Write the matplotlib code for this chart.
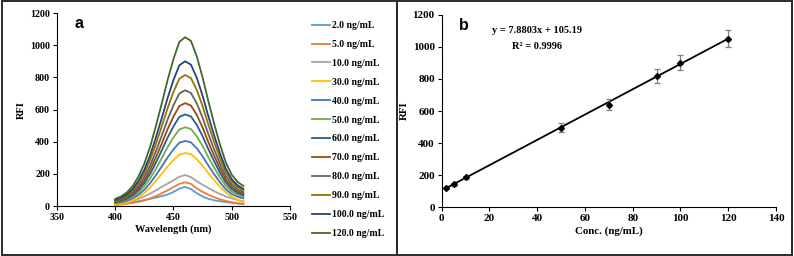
import numpy as np
import matplotlib.pyplot as plt
from matplotlib.patches import Rectangle

plt.rcParams['font.family'] = ['Liberation Serif', 'DejaVu Serif']
plt.rcParams['font.weight'] = 'bold'

# ── Data: panel a (emission spectra) ─────────────────────────────────────────
wavelength = [400, 405, 410, 415, 420, 425, 430, 435, 440, 445, 450, 455,
              460, 465, 470, 475, 480, 485, 490, 495, 500, 505, 510]

conc_labels = ["2.0 ng/mL", "5.0 ng/mL", "10.0 ng/mL", "30.0 ng/mL",
               "40.0 ng/mL", "50.0 ng/mL", "60.0 ng/mL", "70.0 ng/mL",
               "80.0 ng/mL", "90.0 ng/mL", "100.0 ng/mL", "120.0 ng/mL"]

rfi_2 = [8, 12, 17, 23, 30, 37, 45, 53, 62, 72, 88, 108, 120, 105, 80, 60,
         45, 36, 30, 25, 20, 16, 12]
rfi_5 = [6, 10, 15, 20, 26, 35, 48, 62, 80, 98, 118, 138, 148, 138, 110, 88,
         70, 55, 42, 32, 24, 18, 14]
rfi_10 = [10, 15, 22, 32, 45, 60, 78, 98, 120, 140, 160, 182, 193, 180, 155,
          132, 112, 92, 75, 60, 48, 38, 30]
rfi_30 = [8, 14, 22, 35, 55, 82, 116, 157, 201, 247, 287, 320, 330, 323, 292,
          251, 204, 160, 119, 85, 58, 38, 25]
rfi_40 = [17, 23, 33, 48, 71, 102, 143, 193, 247, 303, 353, 394, 405, 396,
          359, 309, 251, 197, 147, 104, 75, 58, 48]
rfi_50 = [21, 28, 40, 58, 86, 123, 172, 233, 299, 367, 427, 476, 490, 479,
          434, 373, 303, 238, 177, 126, 91, 70, 58]
rfi_60 = [25, 32, 46, 68, 100, 144, 201, 271, 348, 426, 496, 554, 570, 557,
          505, 434, 353, 277, 206, 146, 106, 82, 68]
rfi_70 = [28, 36, 52, 76, 113, 161, 225, 305, 390, 479, 557, 622, 640, 625,
          567, 488, 396, 311, 232, 164, 119, 92, 76]
rfi_80 = [31, 41, 58, 86, 127, 181, 253, 343, 439, 539, 627, 700, 720, 703,
          638, 549, 446, 350, 261, 185, 134, 103, 86]
rfi_90 = [35, 46, 66, 97, 143, 205, 287, 388, 497, 610, 710, 792, 815, 796,
          722, 621, 504, 396, 295, 209, 152, 117, 97]
rfi_100 = [39, 51, 73, 107, 158, 227, 317, 428, 549, 673, 784, 875, 900, 879,
           797, 686, 557, 437, 326, 231, 167, 129, 107]
rfi_120 = [45, 60, 85, 125, 185, 265, 370, 500, 640, 785, 915, 1020, 1050,
           1027, 930, 800, 650, 510, 380, 270, 195, 150, 125]

spectra = [rfi_2, rfi_5, rfi_10, rfi_30, rfi_40, rfi_50, rfi_60, rfi_70,
           rfi_80, rfi_90, rfi_100, rfi_120]

colors = ['#5B9BD5', '#ED7D31', '#A5A5A5', '#FFC000', '#4472C4', '#70AD47',
          '#255E91', '#9E480E', '#636363', '#997300', '#264478', '#43682B']

# ── Data: panel b (calibration) ──────────────────────────────────────────────
conc = [2, 5, 10, 50, 70, 90, 100, 120]
rfi_mean = [120, 143, 188, 497, 640, 818, 900, 1050]
rfi_err = [8, 8, 10, 29, 33, 42, 47, 52]
slope, intercept = 7.8803, 105.19

# ── Figure ───────────────────────────────────────────────────────────────────
fig = plt.figure(figsize=(7.94, 2.56), dpi=100)

# panel frames
for x0, w in [(0.002, 0.498), (0.500, 0.497)]:
    fig.patches.append(Rectangle((x0, 0.004), w, 0.992, transform=fig.transFigure,
                                 fill=False, lw=1.4, ec='#2b2b2b'))


def style_axes(ax, size):
    for s in ['top', 'right']:
        ax.spines[s].set_visible(False)
    for s in ['left', 'bottom']:
        ax.spines[s].set_linewidth(0.8)
    ax.tick_params(direction='out', length=3, width=0.8, labelsize=size, pad=2)
    for lbl in ax.get_xticklabels() + ax.get_yticklabels():
        lbl.set_fontweight('bold')


# ── Panel a ──────────────────────────────────────────────────────────────────
ax_a = fig.add_axes([0.0718, 0.195, 0.2934, 0.754])
for vals, col, lab in zip(spectra, colors, conc_labels):
    ax_a.plot(wavelength, vals, color=col, lw=1.3, label=lab)
ax_a.set_xlim(350, 550)
ax_a.set_ylim(0, 1200)
ax_a.set_xticks([350, 400, 450, 500, 550])
ax_a.set_yticks(np.arange(0, 1201, 200))
style_axes(ax_a, 7.2)
ax_a.set_xlabel("Wavelength (nm)", fontsize=7.5, fontweight='bold', labelpad=2)
ax_a.set_ylabel("RFI", fontsize=7.5, fontweight='bold', labelpad=3)
ax_a.text(0.075, 0.985, "a", transform=ax_a.transAxes, fontsize=11.5,
          fontweight='bold', family='Liberation Sans', va='top')

fig.legend(loc='upper left', bbox_to_anchor=(0.3925, 0.918), frameon=False,
           fontsize=7, handlelength=1.9, handletextpad=0.15,
           labelspacing=1.02, borderaxespad=0, borderpad=0)

# ── Panel b ──────────────────────────────────────────────────────────────────
ax_b = fig.add_axes([0.5563, 0.190, 0.421, 0.7526])
xfit = np.array([conc[0], conc[-1]])
ax_b.plot(xfit, slope * xfit + intercept, color='black', lw=1.3, zorder=2)
ax_b.errorbar(conc, rfi_mean, yerr=rfi_err, fmt='D', color='black', ms=3,
              ecolor='#7f7f7f', elinewidth=0.9, capsize=2.5, capthick=0.9,
              zorder=3)
ax_b.set_xlim(0, 140)
ax_b.set_ylim(0, 1200)
ax_b.set_xticks(np.arange(0, 141, 20))
ax_b.set_yticks(np.arange(0, 1201, 200))
style_axes(ax_b, 8)
ax_b.set_xlabel("Conc. (ng/mL)", fontsize=7.8, fontweight='bold', labelpad=2)
ax_b.set_ylabel("RFI", fontsize=7.8, fontweight='bold', labelpad=3)
ax_b.text(0.053, 0.985, "b", transform=ax_b.transAxes, fontsize=11.5,
          fontweight='bold', family='Liberation Sans', va='top')
ax_b.text(0.284, 0.92, f"y = {slope}x + {intercept}", transform=ax_b.transAxes,
          fontsize=7.5, fontweight='bold', ha='center', va='center')
ax_b.text(0.284, 0.835, "R² = 0.9996", transform=ax_b.transAxes,
          fontsize=7.5, fontweight='bold', ha='center', va='center')

fig.savefig("out.png", dpi=100)
